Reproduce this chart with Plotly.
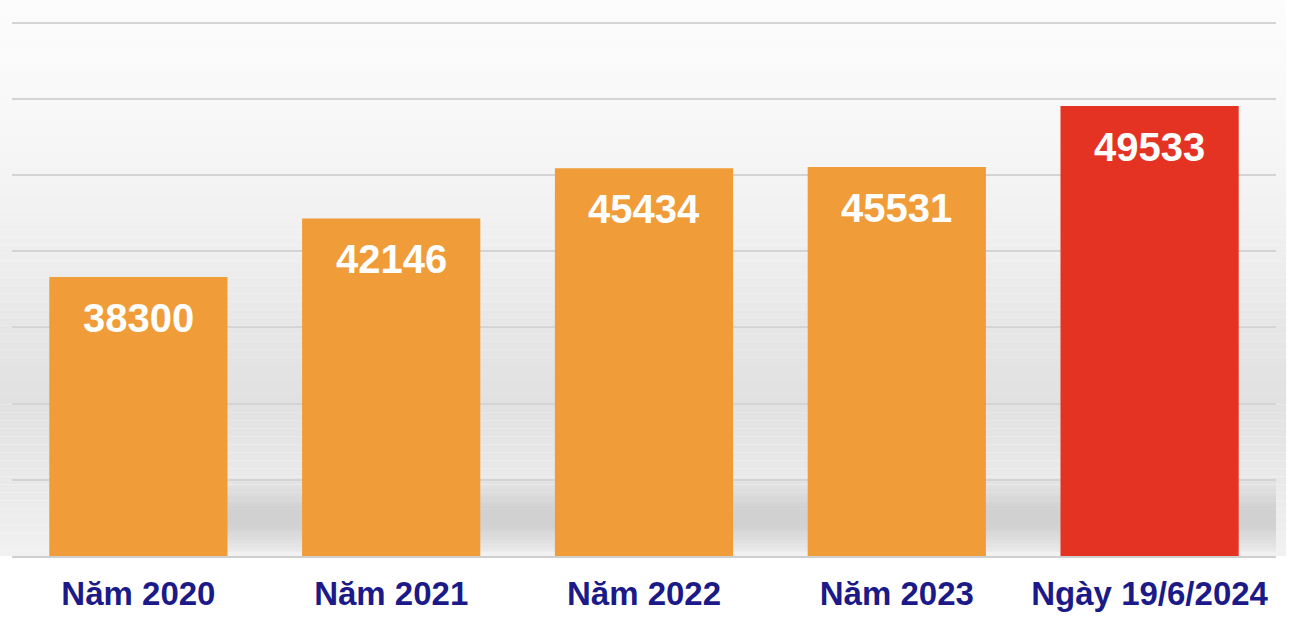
import plotly.graph_objects as go

categories = ["Năm 2020", "Năm 2021", "Năm 2022", "Năm 2023", "Ngày 19/6/2024"]
values = [38300, 42146, 45434, 45531, 49533]
bar_colors = ["#F09C38", "#F09C38", "#F09C38", "#F09C38", "#E43323"]

Y_MIN, Y_MAX, Y_STEP = 20000, 55300, 5000

fig = go.Figure()
fig.add_trace(go.Bar(
    x=categories, y=values, marker=dict(color=bar_colors, line=dict(width=0)),
    hoverinfo="skip", showlegend=False,
))

for c, v in zip(categories, values):
    fig.add_annotation(
        x=c, y=v, xref="x", yref="y", text=f"<b>{v}</b>", showarrow=False,
        yanchor="middle", yshift=-41,
        font=dict(family="Liberation Sans, Arial", size=40, color="white"),
    )

# background gradient (styling only)
stops = [(0.0, 252), (0.2, 248), (0.42, 240), (0.6, 230), (0.72, 225), (0.84, 232), (1.0, 241)]
nb = 70
top = 1.035
for i in range(nb):
    t = (i + 0.5) / nb
    for k in range(len(stops) - 1):
        if stops[k][0] <= t <= stops[k + 1][0]:
            a, b = stops[k], stops[k + 1]
            g = a[1] + (b[1] - a[1]) * (t - a[0]) / (b[0] - a[0])
            break
    g = int(round(g))
    y0 = top - (top * i / nb)
    y1 = top - (top * (i + 1) / nb)
    fig.add_shape(type="rect", xref="paper", yref="paper", x0=-0.01, x1=1.008,
                  y0=y1, y1=y0, fillcolor=f"rgb({g},{g},{g})", line=dict(width=0),
                  layer="below")

# soft shadows in the gaps near the base (vertical fade only, styling)
for i in range(len(categories)):
    x0 = i + 0.35
    x1 = min(i + 0.65, 4.5)
    cy = Y_MIN + 2500
    for k in range(10):
        hh = 2600 - k * 230
        fig.add_shape(type="rect", xref="x", yref="y",
                      x0=x0, x1=x1, y0=max(Y_MIN + 300, cy - hh), y1=cy + hh,
                      fillcolor="rgba(120,120,120,0.022)", line=dict(width=0),
                      layer="below")

fig.update_layout(
    width=1292, height=626,
    margin=dict(l=12, r=16, t=18, b=70),
    paper_bgcolor="white", plot_bgcolor="rgba(0,0,0,0)",
    bargap=0.295,
    font=dict(family="Liberation Sans, Arial"),
)
fig.update_yaxes(
    range=[Y_MIN, Y_MAX], dtick=Y_STEP, tick0=Y_MIN, showticklabels=False,
    showgrid=True, gridcolor="#d4d4d4", gridwidth=2, zeroline=False, showline=False,
)
fig.update_xaxes(
    range=[-0.5, 4.5], autorange=False,
    showgrid=False, showline=True, linecolor="#cfcfcf", linewidth=2,
    ticks="outside", ticklen=7, tickcolor="rgba(0,0,0,0)",
    tickfont=dict(family="Liberation Sans, Arial", size=33, color="#1B1A88", weight="bold"),
)

fig.write_html("out.html")
